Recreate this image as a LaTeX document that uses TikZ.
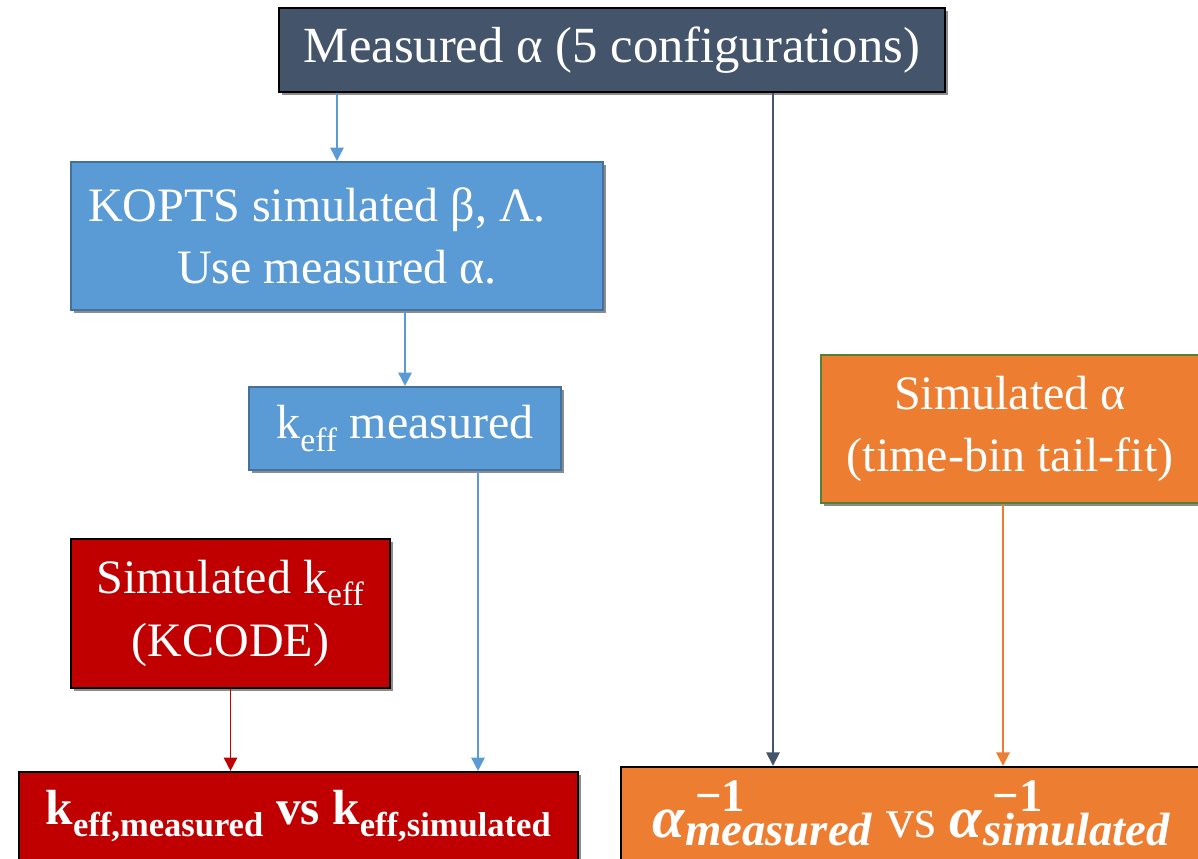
\documentclass[tikz,border=0pt]{standalone}
\usepackage{fontspec}
\setmainfont{Liberation Serif}
\usetikzlibrary{arrows.meta,shadows,calc}
\definecolor{slate}{HTML}{44546A}
\definecolor{myblue}{HTML}{5B9BD5}
\definecolor{blueborder}{HTML}{41719C}
\definecolor{myorange}{HTML}{ED7D31}
\definecolor{mygreen}{HTML}{548235}
\definecolor{myred}{HTML}{C00000}
\newsavebox{\alphabox}
\newcommand{\alphaterm}[1]{\textbf{\textit{α}}%
  \makebox[0pt][l]{\,\raisebox{19pt}{\fontsize{35}{35}\selectfont\bfseries −1}}%
  \raisebox{-6pt}{\fontsize{35}{35}\selectfont\bfseries\itshape #1}}
\tikzset{
  box/.style={rectangle, inner sep=0pt, align=center, text=white,
    font=\fontsize{36}{47}\selectfont, line width=1.6pt,
    drop shadow={shadow xshift=2.5pt, shadow yshift=-2.5pt, opacity=0.45, fill=black}},
  arr/.style={-{Triangle[length=10pt,width=10pt]}, line width=1.3pt},
}
\begin{document}
\sbox{\alphabox}{\color{white}\fontsize{44}{50}\selectfont
  \alphaterm{measured}{\fontsize{42}{44}\selectfont\ vs\ }\alphaterm{simulated}}%
\begin{tikzpicture}[x=0.75pt,y=-0.75pt]
\useasboundingbox (0,0) rectangle (1198,858);
\clip (0,0) rectangle (1198,858);
\fill[white] (0,0) rectangle (1198,858);

\node[box, fill=slate, draw=black, minimum width=499.5pt, minimum height=63pt,
  font=\fontsize{38}{47}\selectfont] (top) at (612,50) {Measured α (5 configurations)};

\node[box, fill=myblue, draw=blueborder, minimum width=399pt, minimum height=111pt] (kopts) at (337,236)
  {KOPTS simulated β, Λ.\hspace*{30pt}\\Use measured α.};

\node[box, fill=myblue, draw=blueborder, minimum width=234pt, minimum height=62.25pt] (kmeas) at (405,428.5)
  {k\textsubscript{eff} measured};

\node[box, fill=myorange, draw=mygreen, minimum width=283.5pt, minimum height=111pt] (sima) at (1010,429)
  {Simulated α\\(time-bin tail-fit)};

\node[box, fill=myred, draw=black, minimum width=239.25pt, minimum height=111.75pt] (simk) at (230.5,613.5)
  {Simulated k\textsubscript{eff}\\(KCODE)};

\node[box, fill=myred, draw=black, minimum width=419.25pt, minimum height=66pt,
  font=\fontsize{37}{47}\selectfont\bfseries] (bleft) at (298.5,816)
  {k\textsubscript{eff,measured} vs k\textsubscript{eff,simulated}};

\node[box, fill=myorange, draw=black, minimum width=435pt, minimum height=70pt] (bright) at (911,813.5)
  {\usebox{\alphabox}};

\draw[arr, myblue] (kopts.north |- top.south) -- (kopts.north);
\draw[arr, slate] ($(top.south)+(161,0)$) coordinate (a1) -- (a1 |- bright.north);
\draw[arr, myblue] (kmeas.north |- kopts.south) -- (kmeas.north);
\draw[arr, myblue] ($(kmeas.south)+(73,0)$) coordinate (a2) -- (a2 |- bleft.north);
\draw[arr, myred] (simk.south) -- (simk.south |- bleft.north);
\draw[arr, myorange] ($(sima.south)+(-7,0)$) coordinate (a3) -- (a3 |- bright.north);
\end{tikzpicture}
\end{document}
